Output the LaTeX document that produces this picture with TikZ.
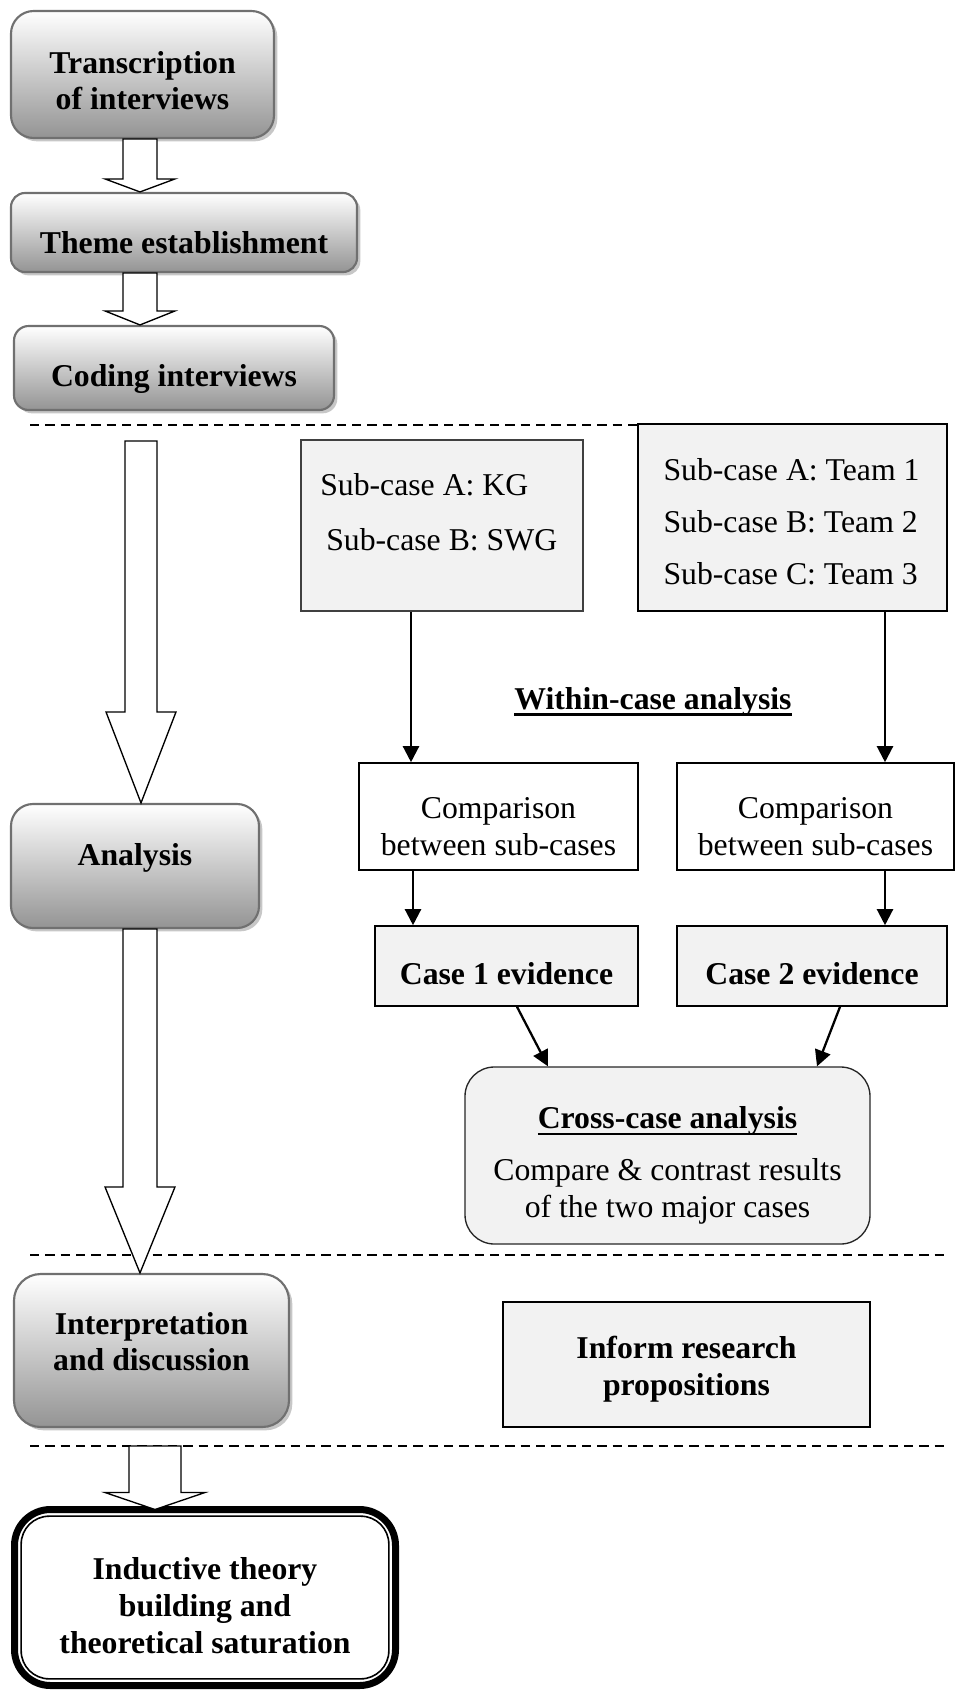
\documentclass[tikz,border=0pt]{standalone}
\usepackage{fontspec}
\setmainfont{Liberation Serif}
\usetikzlibrary{arrows.meta,shadows,calc}

\definecolor{boxfill}{HTML}{F2F2F2}
\definecolor{rimgray}{HTML}{707070}

% text sizes used throughout
\newcommand{\txtsize}{\fontsize{23.8pt}{27.5pt}\selectfont}
% underline that sits through the descenders
\newcommand{\undl}[1]{\leavevmode\setbox0=\hbox{#1}\rlap{\rule[-4.6pt]{\wd0}{1.8pt}}\box0}
% hollow block arrow: from point, to point, centre x, shaft half width, head half width, head length (all in px units)
\newcommand{\blockarrow}[6]{%
  \draw[blockarr] let \p1=(#1), \p2=(#2) in
    ({(#3-#4)*0.75pt},\y1) -- ({(#3-#4)*0.75pt},{\y2+#6*0.75pt})
    -- ({(#3-#5)*0.75pt},{\y2+#6*0.75pt}) -- ({#3*0.75pt},\y2)
    -- ({(#3+#5)*0.75pt},{\y2+#6*0.75pt}) -- ({(#3+#4)*0.75pt},{\y2+#6*0.75pt})
    -- ({(#3+#4)*0.75pt},\y1) -- cycle;}

\begin{document}
\begin{tikzpicture}[x=0.75pt,y=-0.75pt,
  gbox/.style={draw=rimgray, line width=1.6pt, top color=white, bottom color=black!42,
    drop shadow={shadow xshift=2.5pt, shadow yshift=-2.5pt, fill=black!40, opacity=0.55}},
  lightbox/.style={draw=black, fill=boxfill, line width=1.2pt},
  whitebox/.style={draw=black, fill=white, line width=1.2pt},
  btxt/.style={align=center, font=\txtsize\bfseries, inner sep=0pt},
  rtxt/.style={align=center, font=\txtsize, inner sep=0pt},
  blockarr/.style={draw=black, fill=white, line width=1pt, line join=miter},
  thinarr/.style={line width=1.7pt, -{Triangle[length=12pt,width=12pt]}},
  phase/.style={line width=0.8pt, dash pattern=on 7pt off 4.5pt}]

\useasboundingbox (0,0) rectangle (964,1692);

% phase separators
\draw[phase] (30,425) -- (948,425);
\draw[phase] (30,1255) -- (948,1255);
\draw[phase] (30,1446) -- (948,1446);

% main process column
\node[gbox, rounded corners=17pt, minimum width=197.25pt, minimum height=95.25pt] (trans) at (142.5,74.5) {};
\node[btxt] (transT) at ($(trans)+(0,6)$) {Transcription\\of interviews};
\node[gbox, rounded corners=10.5pt, minimum width=259.5pt, minimum height=59.25pt] (theme) at (184,232.5) {};
\node[btxt] (themeT) at ($(theme)+(0,10)$) {Theme establishment};
\node[gbox, rounded corners=11pt, minimum width=240pt, minimum height=63pt] (coding) at (174,368) {};
\node[btxt] (codingT) at ($(coding)+(0,11)$) {Coding interviews};
\node[gbox, rounded corners=16.5pt, minimum width=186pt, minimum height=93pt] (analysis) at (135,866) {};
\node[btxt] (analysisT) at ($(analysis)+(0,-8)$) {Analysis};
\node[gbox, rounded corners=20pt, minimum width=206.25pt, minimum height=114.75pt] (interp) at (151.5,1350.5) {};
\node[btxt] (interpT) at ($(interp)+(0,-9)$) {Interpretation\\and discussion};
\node[draw=black, fill=white, line width=5.25pt, outer sep=0pt, rounded corners=27pt, minimum width=285.75pt, minimum height=132pt] (final) at (205,1597.5) {};
\draw[line width=1.2pt, rounded corners=21pt] ($(final.north west)+(5pt,-5pt)$) rectangle ($(final.south east)+(-5pt,5pt)$);
\node[btxt] (finalT) at ($(final)+(0,8)$) {Inductive theory\\building and\\theoretical saturation};

% case column
\node[lightbox, draw=black!75, line width=0.9pt, minimum width=211.5pt, minimum height=128.25pt] (kg) at (442,525.5) {};
\node[rtxt, anchor=west] (kga) at (320,485) {Sub-case A: KG};
\node[rtxt, anchor=west] (kgb) at (326,540) {Sub-case B: SWG};
\node[lightbox, minimum width=231.75pt, minimum height=140.25pt] (team) at (792.5,517.5) {};
\node[rtxt, align=left, font=\fontsize{23.8pt}{39pt}\selectfont] (teamT) at ($(team)+(-1,4)$) {Sub-case A: Team 1\\Sub-case B: Team 2\\Sub-case C: Team 3};

\node[btxt] (within) at (653,702) {\undl{Within-case analysis}};

\node[whitebox, minimum width=209.25pt, minimum height=80.25pt] (comp1) at (498.5,816.5) {};
\node[rtxt] (comp1T) at ($(comp1)+(0,10)$) {Comparison\\between sub-cases};
\node[whitebox, minimum width=207.75pt, minimum height=80.25pt] (comp2) at (815.5,816.5) {};
\node[rtxt] (comp2T) at ($(comp2)+(0,10)$) {Comparison\\between sub-cases};

\node[lightbox, minimum width=197.25pt, minimum height=60pt] (case1) at (506.5,966) {};
\node[btxt] (case1T) at ($(case1)+(0,8)$) {Case 1 evidence};
\node[lightbox, minimum width=202.5pt, minimum height=60pt] (case2) at (812,966) {};
\node[btxt] (case2T) at ($(case2)+(0,8)$) {Case 2 evidence};

\node[draw=black!85, fill=boxfill, line width=1pt, rounded corners=22pt, minimum width=303.75pt, minimum height=132.75pt] (cross) at (667.5,1155.5) {};
\node[rtxt] (crossT) at ($(cross)+(0,10)$) {\textbf{\undl{Cross-case analysis}}\\[11.5pt]Compare \& contrast results\\of the two major cases};

\node[lightbox, minimum width=275.25pt, minimum height=93.75pt] (inform) at (686.5,1364.5) {};
\node[btxt] (informT) at ($(inform)+(0,5)$) {Inform research\\propositions};

% hollow arrows between the stages
\blockarrow{trans.south}{theme.north}{140}{17}{35}{13}
\blockarrow{theme.south}{coding.north}{140}{17}{35}{14}
\coordinate (gateA) at (141,441);
\blockarrow{gateA}{analysis.north}{141}{16}{35}{91}
\blockarrow{analysis.south}{interp.north}{140}{17}{35}{86}
\coordinate (gateB) at (155,1446);
\blockarrow{gateB}{final.north}{155}{26}{50}{17}

% case flow
\draw[thinarr] (kg.south -| 411,0) -- (comp1.north -| 411,0);
\draw[thinarr] (comp1.south -| 413,0) -- (case1.north -| 413,0);
\draw[thinarr] (team.south -| 885,0) -- (comp2.north -| 885,0);
\draw[thinarr] (comp2.south -| 885,0) -- (case2.north -| 885,0);
\draw[thinarr] (case1.south -| 517,0) -- (cross.north -| 548,0);
\draw[thinarr] (case2.south -| 840,0) -- (cross.north -| 817,0);

\end{tikzpicture}
\end{document}
